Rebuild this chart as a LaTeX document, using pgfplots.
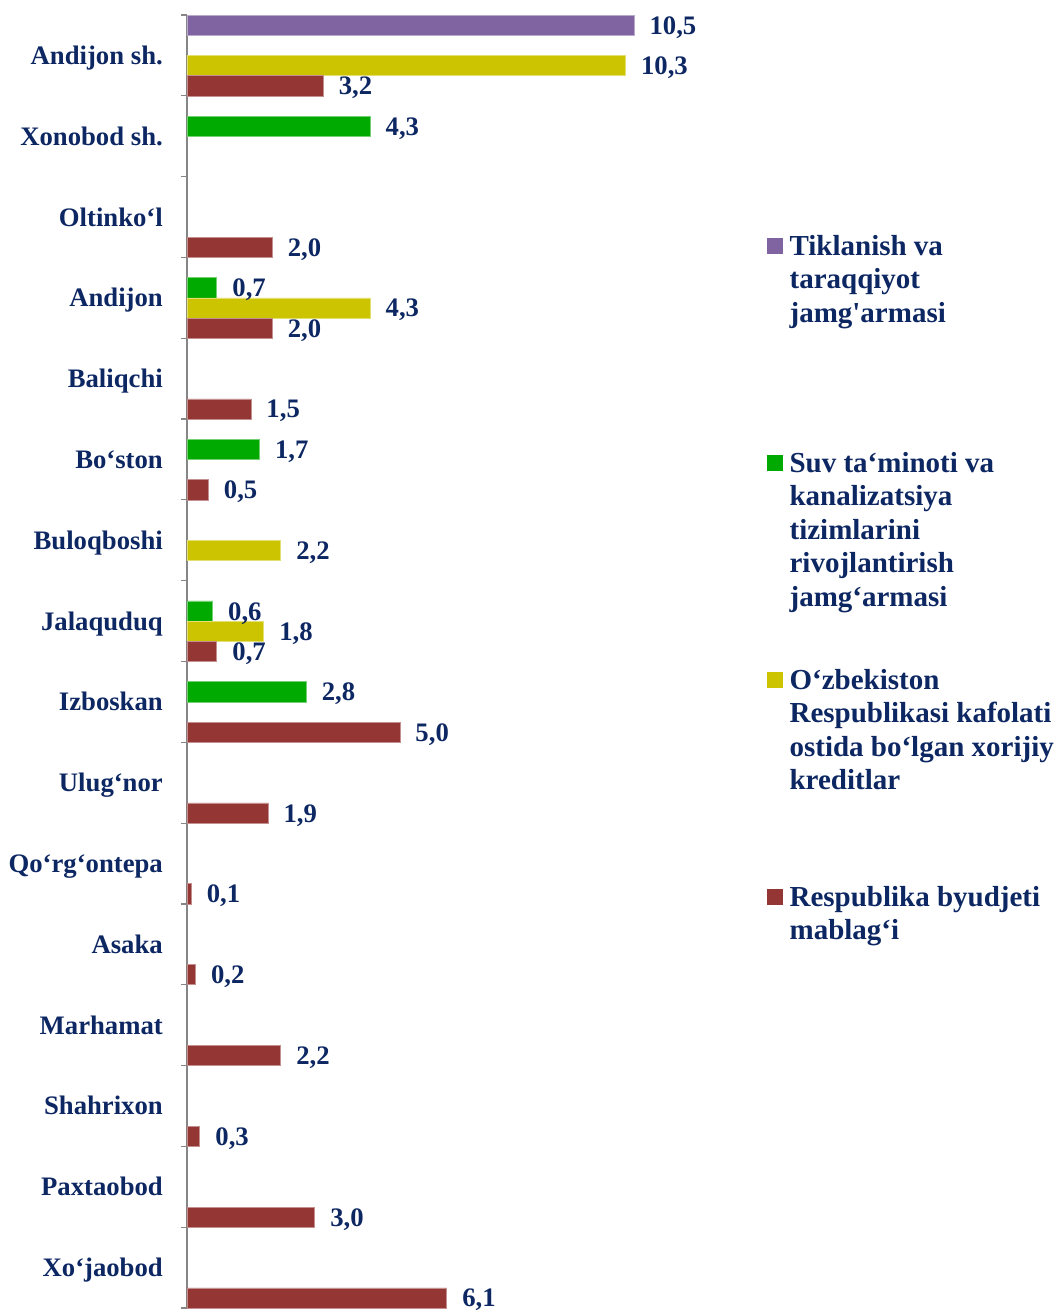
\documentclass[border=0pt]{standalone}
\usepackage{fontspec}
\setmainfont{Liberation Serif}
\usepackage{pgfplots}
\pgfplotsset{compat=1.18}
\definecolor{cPurple}{HTML}{8064A2}
\definecolor{cGreen}{HTML}{00AA00}
\definecolor{cYellow}{HTML}{CCC400}
\definecolor{cBrown}{HTML}{943634}
\definecolor{cNavy}{HTML}{0D2763}
\definecolor{cAxis}{HTML}{868686}
\newcommand\lbfont{\fontsize{26.7}{30}\selectfont\bfseries}
\newcommand\lgfont{\fontsize{29}{33.5}\selectfont\bfseries}
\newcommand\lgentry[1]{\vtop{\lgfont\baselineskip=33.5pt #1}}
\newcommand\fl[1]{\hbox{\rule{0pt}{22pt}#1}}
\begin{document}
\begin{tikzpicture}
\useasboundingbox (0,0) rectangle (1057pt,1310pt);
\begin{axis}[
  at={(187pt,2pt)}, anchor=south west,
  scale only axis, width=510.84pt, height=1293pt,
  xmin=0, xmax=12, ymin=-0.5, ymax=15.5, y dir=reverse,
  enlargelimits=false, clip=false,
  axis x line=none, axis y line*=left, xtick=\empty,
  y axis line style={draw=cAxis, line width=1.5pt},
  xbar, bar width=0.25,
  ytick={0,...,15},
  yticklabels={Andijon sh.,Xonobod sh.,Oltinko‘l,Andijon,Baliqchi,Bo‘ston,Buloqboshi,Jalaquduq,Izboskan,Ulug‘nor,Qo‘rg‘ontepa,Asaka,Marhamat,Shahrixon,Paxtaobod,Xo‘jaobod},
  minor ytick={-0.5,0.5,...,15.5},
  major tick length=0pt, minor tick length=6pt, tick align=outside,
  minor tick style={draw=cAxis, line width=1.2pt},
  yticklabel style={font=\lbfont, text=cNavy, anchor=east, inner sep=0pt, xshift=-24pt, text height=18pt, text depth=0pt},
  point meta=x,
  nodes near coords={\pgfmathprintnumber[fixed,fixed zerofill,precision=1,use comma,assume math mode=true]{\pgfplotspointmeta}},
  every node near coord/.append style={font=\lbfont, text=cNavy, anchor=west, text height=18pt, text depth=0pt, xshift=12pt},
  legend style={at={(1.13538,0.83140)}, anchor=north west, draw=none, fill=none, inner sep=0pt, outer sep=0pt, row sep=0pt, column sep=7pt, cells={anchor=base west}, nodes={inner sep=0pt, text=cNavy, text height=22pt, text depth=195pt}},
]
\addplot[fill=cPurple, draw=cPurple!55!white, line width=0.6pt, bar shift=-0.375,
  legend image code/.code={\fill[cPurple] (0pt,2pt) rectangle (15pt,17pt);}]
  coordinates {(10.5,0)};
\addlegendentry{\lgentry{\fl{Tiklanish va}\hbox{taraqqiyot}\hbox{jamg{\addfontfeature{Ligatures=TeXOff}'}armasi}}}
\addplot[fill=cGreen, draw=cGreen!55!white, line width=0.6pt, bar shift=-0.125,
  legend image code/.code={\fill[cGreen] (0pt,2pt) rectangle (15pt,17pt);}]
  coordinates {(4.3,1) (0.7,3) (1.7,5) (0.6,7) (2.8,8)};
\addlegendentry{\lgentry{\fl{Suv ta‘minoti va}\hbox{kanalizatsiya}\hbox{tizimlarini}\hbox{rivojlantirish}\hbox{jamg‘armasi}}}
\addplot[fill=cYellow, draw=cYellow!55!white, line width=0.6pt, bar shift=0.125,
  legend image code/.code={\fill[cYellow] (0pt,2pt) rectangle (15pt,17pt);}]
  coordinates {(10.3,0) (4.3,3) (2.2,6) (1.8,7)};
\addlegendentry{\lgentry{\fl{O‘zbekiston}\hbox{Respublikasi kafolati}\hbox{ostida bo‘lgan xorijiy}\hbox{kreditlar}}}
\addplot[fill=cBrown, draw=cBrown!55!white, line width=0.6pt, bar shift=0.375,
  legend image code/.code={\fill[cBrown] (0pt,2pt) rectangle (15pt,17pt);}]
  coordinates {(3.2,0) (2.0,2) (2.0,3) (1.5,4) (0.5,5) (0.7,7) (5.0,8) (1.9,9) (0.1,10) (0.2,11) (2.2,12) (0.3,13) (3.0,14) (6.1,15)};
\addlegendentry{\lgentry{\fl{Respublika byudjeti}\hbox{mablag‘i}}}
\end{axis}
\end{tikzpicture}
\end{document}
